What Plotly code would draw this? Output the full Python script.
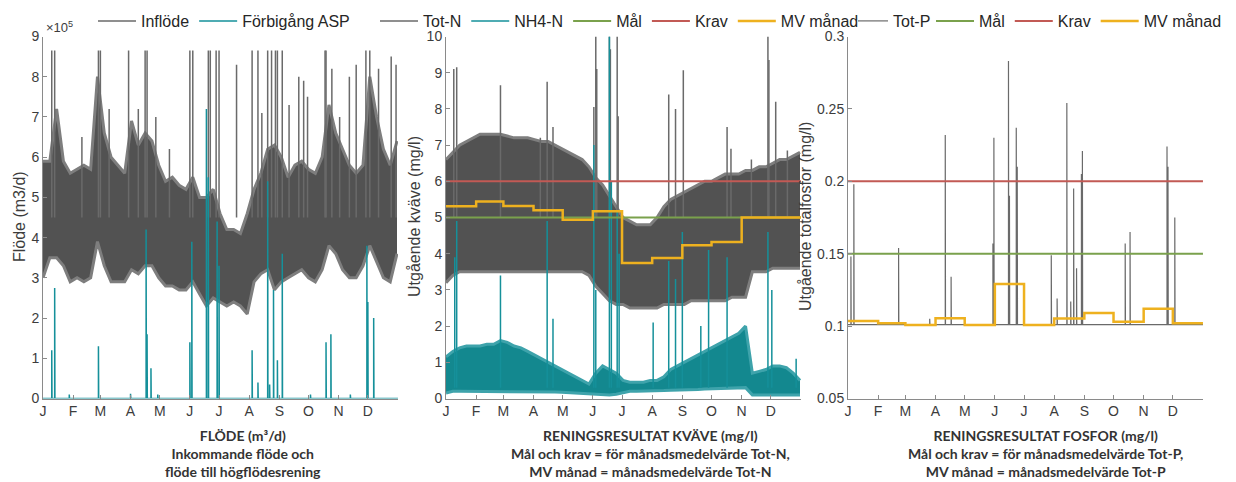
import pandas as pd
import plotly.graph_objects as go

# ---------------- data ----------------
YEAR_START = "2023-01-01"
YEAR_END = "2023-12-31 23:00"
MONTH_START = ["2023-01-01", "2023-02-01", "2023-03-01", "2023-04-01", "2023-05-01", "2023-06-01",
               "2023-07-01", "2023-08-01", "2023-09-01", "2023-10-01", "2023-11-01", "2023-12-01"]
MONTH_LABELS = ["J", "F", "M", "A", "M", "J", "J", "A", "S", "O", "N", "D"]
SAMPLE_DAY = list(range(0, 365, 7))  # weekly envelope sample positions (day of year)

# Inflöde envelope (x 1e5 m3/d)
FLOW_HIGH = [5.9, 5.9, 7.2, 5.9, 5.6, 5.7, 5.8, 5.7, 8.0, 6.6, 6.0, 5.8, 5.6, 6.9, 6.3, 6.6, 6.4, 5.8,
             5.4, 5.5, 5.3, 5.2, 5.5, 5.0, 5.0, 5.2, 4.6, 4.2, 4.2, 4.1, 4.6, 5.2, 5.6, 6.2, 6.3, 6.0,
             5.5, 5.8, 5.9, 5.7, 5.6, 6.0, 7.3, 6.6, 6.2, 5.8, 5.6, 5.8, 8.0, 7.0, 6.2, 5.8, 6.4]
FLOW_LOW = [3.0, 3.5, 3.5, 3.3, 2.9, 3.0, 2.9, 3.0, 3.9, 3.3, 2.9, 2.9, 2.9, 3.2, 3.1, 3.3, 3.3, 3.0,
            2.8, 2.8, 2.7, 2.7, 2.9, 2.6, 2.3, 2.5, 2.4, 2.3, 2.4, 2.3, 2.1, 2.9, 3.1, 3.2, 2.7, 2.9,
            3.0, 3.1, 3.2, 3.0, 2.9, 3.2, 3.8, 3.6, 3.2, 3.0, 3.0, 3.3, 3.8, 3.4, 3.0, 2.9, 3.6]
FLOW_BASE = 4.5
FLOW_SPIKE_DAY = [9, 12, 40, 57, 59, 68, 88, 98, 105, 107, 116, 130, 151, 154, 170, 172, 178, 181,
                  199, 215, 221, 225, 231, 235, 239, 241, 246, 253, 263, 268, 272, 290, 291, 297,
                  305, 315, 322, 332, 336, 345, 358, 363]
FLOW_SPIKE_VAL = [8.65, 8.65, 6.5, 8.65, 8.65, 7.2, 8.65, 7.2, 8.65, 8.65, 7.0, 6.2, 8.65, 8.65, 8.65,
                  8.65, 8.65, 8.65, 8.3, 8.65, 8.65, 7.1, 8.65, 8.65, 8.65, 8.65, 8.65, 7.3, 8.0, 7.9,
                  7.5, 8.65, 8.65, 8.2, 7.0, 8.0, 8.3, 8.65, 8.65, 8.2, 8.5, 8.3]

# Förbigång ASP (x 1e5 m3/d)
BYPASS_DAY = [9, 12, 27, 57, 90, 106, 107, 111, 118, 151, 153, 168, 170, 179, 181, 215, 221, 231,
              233, 237, 241, 246, 275, 291, 296, 316, 333, 334, 340]
BYPASS_VAL = [1.2, 2.75, 0.1, 1.3, 0.12, 4.2, 1.6, 0.75, 0.1, 1.4, 3.9, 7.2, 5.5, 4.4, 3.3, 1.2, 0.4,
              5.4, 0.35, 2.7, 0.95, 3.6, 0.1, 1.4, 1.6, 0.1, 3.8, 2.4, 2.0]

# Tot-N envelope (mg/l)
TOTN_HIGH = [6.6, 6.8, 7.0, 7.1, 7.2, 7.3, 7.3, 7.3, 7.3, 7.25, 7.2, 7.2, 7.2, 7.15, 7.1, 7.1, 7.0,
             6.9, 6.8, 6.7, 6.6, 6.4, 6.1, 5.9, 5.6, 5.3, 5.0, 4.9, 4.8, 4.8, 4.8, 5.0, 5.3, 5.5,
             5.6, 5.7, 5.8, 5.9, 6.0, 6.0, 6.1, 6.2, 6.2, 6.2, 6.3, 6.3, 6.4, 6.4, 6.5, 6.6, 6.6,
             6.7, 6.8]
TOTN_LOW = [3.2, 3.4, 3.5, 3.5, 3.5, 3.5, 3.5, 3.5, 3.5, 3.5, 3.5, 3.5, 3.5, 3.5, 3.5, 3.5, 3.5,
            3.5, 3.5, 3.5, 3.5, 3.4, 3.1, 2.9, 2.7, 2.6, 2.6, 2.5, 2.5, 2.5, 2.5, 2.5, 2.6, 2.6,
            2.6, 2.6, 2.7, 2.7, 2.7, 2.7, 2.7, 2.7, 2.8, 2.8, 2.8, 3.5, 3.5, 3.5, 3.6, 3.6, 3.6,
            3.6, 3.6]
TOTN_BASE = 5.0
TOTN_SPIKE_DAY = [8, 11, 56, 97, 104, 110, 152, 154, 155, 168, 169, 176, 177, 229, 236, 244, 289,
                  293, 314, 331, 332, 339, 351]
TOTN_SPIKE_VAL = [9.1, 9.15, 8.65, 7.2, 8.75, 7.5, 8.05, 10, 9.1, 10, 9.65, 10, 7.8, 8.4, 8.0,
                  9.07, 7.5, 6.9, 6.6, 10, 9.35, 8.2, 6.85]

# NH4-N envelope (mg/l)
NH4_HIGH = [1.15, 1.3, 1.4, 1.45, 1.45, 1.45, 1.5, 1.5, 1.6, 1.55, 1.45, 1.4, 1.3, 1.2, 1.1, 1.0,
            0.9, 0.8, 0.7, 0.6, 0.5, 0.4, 0.7, 0.9, 0.8, 0.7, 0.5, 0.45, 0.45, 0.45, 0.5, 0.5, 0.6,
            0.8, 0.9, 1.0, 1.1, 1.2, 1.3, 1.4, 1.5, 1.6, 1.7, 1.8, 2.0, 0.7, 0.75, 0.8, 0.9, 0.9,
            0.85, 0.7, 0.5]
NH4_LOW = [0.15, 0.2, 0.2, 0.2, 0.2, 0.2, 0.2, 0.2, 0.2, 0.2, 0.2, 0.2, 0.2, 0.2, 0.2, 0.2, 0.18,
           0.17, 0.16, 0.15, 0.14, 0.12, 0.1, 0.1, 0.1, 0.12, 0.15, 0.2, 0.2, 0.2, 0.22, 0.22,
           0.22, 0.23, 0.23, 0.25, 0.25, 0.25, 0.26, 0.27, 0.27, 0.28, 0.28, 0.29, 0.3, 0.1, 0.1,
           0.1, 0.1, 0.1, 0.1, 0.1, 0.1]
NH4_BASE = 0.3
NH4_SPIKE_DAY = [9, 11, 56, 104, 110, 152, 154, 168, 170, 176, 178, 213, 229, 236, 243, 262, 270,
                 289, 331, 335, 360]
NH4_SPIKE_VAL = [3.9, 4.9, 3.4, 4.9, 2.2, 7.0, 3.0, 10, 6.0, 5.2, 4.0, 2.1, 3.8, 3.3, 4.6, 2.0,
                 4.1, 3.9, 4.6, 3.0, 1.1]

MAL_N, KRAV_N = 5.0, 6.0
MV_N = [5.31, 5.44, 5.32, 5.2, 4.94, 5.17, 3.74, 3.88, 4.23, 4.32, 5.0, 5.0]

# Tot-P (mg/l)
TOTP_BASE = 0.101
TOTP_SPIKE_DAY = [3, 6, 52, 84, 100, 106, 149, 150, 165, 166, 173, 174, 209, 215, 225, 229, 232,
                  235, 240, 241, 285, 290, 328, 329, 336]
TOTP_SPIKE_VAL = [0.148, 0.198, 0.154, 0.105, 0.232, 0.134, 0.157, 0.23, 0.283, 0.19, 0.237, 0.21,
                  0.149, 0.119, 0.254, 0.117, 0.195, 0.14, 0.205, 0.221, 0.157, 0.165, 0.224,
                  0.21, 0.175]
MAL_P, KRAV_P = 0.15, 0.20
MV_P = [0.1036, 0.102, 0.1008, 0.1055, 0.1008, 0.129, 0.1008, 0.1053, 0.109, 0.103, 0.112, 0.102]

# ---------------- styling ----------------
PAGE_OFF = 8                      # default page body margin
W, H = 1236 - PAGE_OFF, 482 - PAGE_OFF
FONT = "Liberation Sans, Arial, sans-serif"
C_GRAY_LINE = "#6a6a6a"
C_GRAY_FILL = "#525252"
C_GRAY_EDGE = "#7e7e7e"
C_TEAL = "#15909a"
C_TEAL_FILL = "#13888f"
C_TEAL_EDGE = "#3ea3ab"
C_GREEN = "#7aa14c"
C_RED = "#c25a55"
C_YELLOW = "#eeb11f"
C_AXIS = "#8a8a8a"
C_TEXT = "#3c3c3c"

T0 = pd.Timestamp(YEAR_START)
T_END = pd.Timestamp(YEAR_END)


def day_dates(days):
    return [T0 + pd.Timedelta(days=d) for d in days]


def spike_xy(days, vals, base):
    xs, ys = [], []
    for t, v in zip(day_dates(days), vals):
        xs += [t, t, None]
        ys += [base, v, None]
    return xs, ys


def baseline_spike_xy(days, vals, base):
    xs, ys = [T0], [base]
    for t, v in zip(day_dates(days), vals):
        xs += [t, t, t + pd.Timedelta(hours=6)]
        ys += [base, v, base]
    xs.append(T_END)
    ys.append(base)
    return xs, ys


def step_xy(vals):
    return MONTH_START + [YEAR_END], list(vals) + [vals[-1]]


fig = go.Figure()
wx = day_dates(SAMPLE_DAY)


def add_band(high, low, xa, ya, fillc, edgec):
    fig.add_trace(go.Scatter(x=wx, y=high, mode="lines", line=dict(color=edgec, width=3),
                             xaxis=xa, yaxis=ya, showlegend=False, hoverinfo="skip"))
    fig.add_trace(go.Scatter(x=wx, y=low, mode="lines", line=dict(color=edgec, width=3),
                             fill="tonexty", fillcolor=fillc,
                             xaxis=xa, yaxis=ya, showlegend=False, hoverinfo="skip"))


# ---- panel 1: flow ----
add_band(FLOW_HIGH, FLOW_LOW, "x", "y", C_GRAY_FILL, C_GRAY_EDGE)
sx, sy = spike_xy(FLOW_SPIKE_DAY, FLOW_SPIKE_VAL, FLOW_BASE)
fig.add_trace(go.Scatter(x=sx, y=sy, mode="lines", name="Inflöde", line=dict(color=C_GRAY_LINE, width=1.5),
                         xaxis="x", yaxis="y", legend="legend"))
bx, by = baseline_spike_xy(BYPASS_DAY, BYPASS_VAL, 0)
fig.add_trace(go.Scatter(x=bx, y=by, mode="lines", name="Förbigång ASP", line=dict(color=C_TEAL, width=1.5),
                         xaxis="x", yaxis="y", legend="legend"))

# ---- panel 2: nitrogen ----
add_band(TOTN_HIGH, TOTN_LOW, "x2", "y2", C_GRAY_FILL, C_GRAY_EDGE)
sx, sy = spike_xy(TOTN_SPIKE_DAY, TOTN_SPIKE_VAL, TOTN_BASE)
fig.add_trace(go.Scatter(x=sx, y=sy, mode="lines", name="Tot-N", line=dict(color=C_GRAY_LINE, width=1.5),
                         xaxis="x2", yaxis="y2", legend="legend3"))
add_band(NH4_HIGH, NH4_LOW, "x2", "y2", C_TEAL_FILL, C_TEAL_EDGE)
sx, sy = spike_xy(NH4_SPIKE_DAY, NH4_SPIKE_VAL, NH4_BASE)
fig.add_trace(go.Scatter(x=sx, y=sy, mode="lines", name="NH4-N", line=dict(color=C_TEAL, width=1.5),
                         xaxis="x2", yaxis="y2", legend="legend3"))
fig.add_trace(go.Scatter(x=[T0, T_END], y=[MAL_N, MAL_N], mode="lines", name="Mål",
                         line=dict(color=C_GREEN, width=2), xaxis="x2", yaxis="y2", legend="legend3"))
fig.add_trace(go.Scatter(x=[T0, T_END], y=[KRAV_N, KRAV_N], mode="lines", name="Krav",
                         line=dict(color=C_RED, width=2), xaxis="x2", yaxis="y2", legend="legend3"))
mx, my = step_xy(MV_N)
fig.add_trace(go.Scatter(x=mx, y=my, mode="lines", name="MV månad", line=dict(color=C_YELLOW, width=2.5, shape="hv"),
                         xaxis="x2", yaxis="y2", legend="legend3"))

# ---- panel 3: phosphorus ----
px_, py_ = baseline_spike_xy(TOTP_SPIKE_DAY, TOTP_SPIKE_VAL, TOTP_BASE)
fig.add_trace(go.Scatter(x=px_, y=py_, mode="lines", name="Tot-P", line=dict(color=C_GRAY_LINE, width=1.2),
                         xaxis="x3", yaxis="y3", legend="legend4"))
fig.add_trace(go.Scatter(x=[T0, T_END], y=[MAL_P, MAL_P], mode="lines", name="Mål",
                         line=dict(color=C_GREEN, width=2), xaxis="x3", yaxis="y3", legend="legend2"))
fig.add_trace(go.Scatter(x=[T0, T_END], y=[KRAV_P, KRAV_P], mode="lines", name="Krav",
                         line=dict(color=C_RED, width=2), xaxis="x3", yaxis="y3", legend="legend2"))
mx, my = step_xy(MV_P)
fig.add_trace(go.Scatter(x=mx, y=my, mode="lines", name="MV månad", line=dict(color=C_YELLOW, width=2.5, shape="hv"),
                         xaxis="x3", yaxis="y3", legend="legend2"))


# ---------------- layout (positions given in page pixels) ----------------
def fx(p):
    return (p - PAGE_OFF) / W


def fy(p):
    return 1 - (p - PAGE_OFF) / H


YDOM = [fy(398.5), fy(36.5)]
XDOMS = [(43, 398), (446, 801), (848, 1203)]

axis_common = dict(showline=True, linecolor=C_AXIS, linewidth=1, ticks="inside", ticklen=4,
                   tickcolor=C_AXIS, showgrid=False, zeroline=False,
                   tickfont=dict(size=14, color=C_TEXT, family=FONT))

layout = dict(width=W, height=H, margin=dict(l=0, r=0, t=0, b=0, autoexpand=False),
              paper_bgcolor="white", plot_bgcolor="white",
              font=dict(family=FONT, color=C_TEXT), hovermode=False)

for i, (a, b) in enumerate(XDOMS):
    sfx = "" if i == 0 else str(i + 1)
    layout["xaxis" + sfx] = dict(axis_common, domain=[fx(a), fx(b)], anchor="y" + sfx, type="date",
                                 range=[YEAR_START, "2024-01-01"], tickvals=MONTH_START,
                                 ticktext=MONTH_LABELS)

layout["yaxis"] = dict(axis_common, domain=YDOM, anchor="x", range=[0, 9],
                       tickvals=list(range(0, 10)), ticktext=[str(v) for v in range(0, 10)])
layout["yaxis2"] = dict(axis_common, domain=YDOM, anchor="x2", range=[0, 10],
                        tickvals=list(range(0, 11)))
p_ticks = [0.05, 0.1, 0.15, 0.2, 0.25, 0.3]
layout["yaxis3"] = dict(axis_common, domain=YDOM, anchor="x3", range=[0.05, 0.3],
                        tickvals=p_ticks, ticktext=["0.05", "0.1", "0.15", "0.2", "0.25", "0.3"])

leg_common = dict(orientation="h", xanchor="left", yanchor="top", y=fy(4), traceorder="normal",
                  font=dict(size=16, color="#262626", family=FONT), borderwidth=0, itemwidth=38,
                  itemclick=False, itemdoubleclick=False, bgcolor="rgba(255,255,255,0)")
layout["legend"] = dict(leg_common, x=fx(93))
layout["legend3"] = dict(leg_common, x=fx(375))
layout["legend4"] = dict(leg_common, x=fx(853), itemwidth=30)
layout["legend2"] = dict(leg_common, x=fx(931))

ann = []
ytitle = dict(xref="paper", yref="paper", showarrow=False, textangle=-90,
              font=dict(size=16, color=C_TEXT, family=FONT), xanchor="center", yanchor="middle",
              y=fy(217))
ann.append(dict(ytitle, x=fx(19), text="Flöde (m3/d)"))
ann.append(dict(ytitle, x=fx(414), text="Utgående kväve (mg/l)"))
ann.append(dict(ytitle, x=fx(805), text="Utgående totalfosfor (mg/l)"))
ann.append(dict(xref="paper", yref="paper", showarrow=False, x=fx(44), y=fy(27), xanchor="left",
                yanchor="middle", text="×10<sup>5</sup>", font=dict(size=13, color=C_TEXT, family=FONT)))

btitle = dict(xref="paper", yref="paper", showarrow=False, xanchor="center", yanchor="top",
              y=fy(425), align="center", font=dict(size=14, color="#333333", family="Lato"))
ann.append(dict(btitle, x=fx(243),
                text="<b>FLÖDE (m³/d)<br>Inkommande flöde och<br>flöde till högflödesrening</b>"))
ann.append(dict(btitle, x=fx(650),
                text="<b>RENINGSRESULTAT KVÄVE (mg/l)<br>Mål och krav = för månadsmedelvärde Tot-N,"
                     "<br>MV månad = månadsmedelvärde Tot-N</b>"))
ann.append(dict(btitle, x=fx(1045),
                text="<b>RENINGSRESULTAT FOSFOR (mg/l)<br>Mål och krav = för månadsmedelvärde Tot-P,"
                     "<br>MV månad = månadsmedelvärde Tot-P</b>"))
layout["annotations"] = ann

fig.update_layout(layout)
fig.write_html("out.html")
